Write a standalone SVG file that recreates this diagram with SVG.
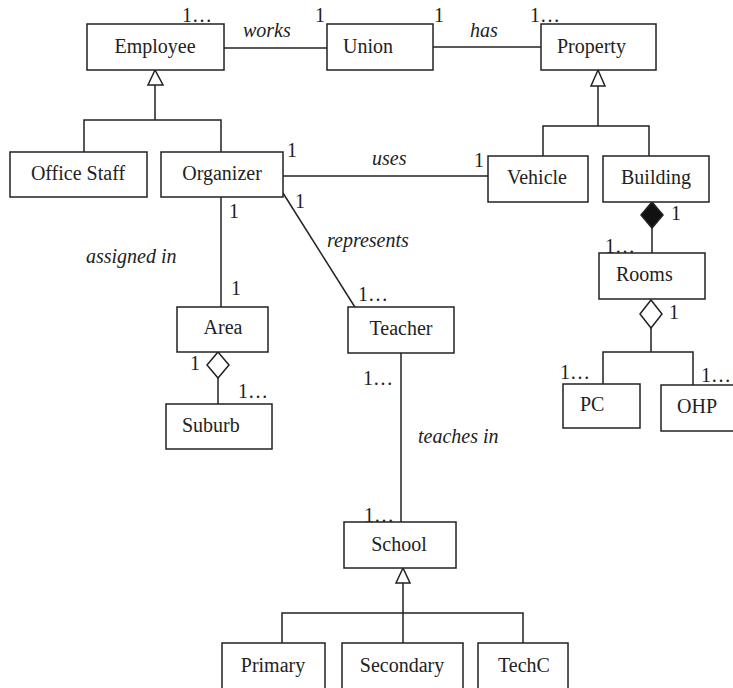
<svg xmlns="http://www.w3.org/2000/svg" width="733" height="688" viewBox="0 0 733 688">
<style>
.box{fill:#fff;stroke:#222;stroke-width:1.5}
.ln{fill:none;stroke:#222;stroke-width:1.5}
.tri{fill:#fff;stroke:#222;stroke-width:1.5}
.odia{fill:#fff;stroke:#222;stroke-width:1.5}
.fdia{fill:#111;stroke:#222;stroke-width:1.5}
text{font-family:"Liberation Serif","Times New Roman",serif;font-size:20px;fill:#222}
.c{text-anchor:middle}
.i{font-style:italic}
</style>
<rect width="733" height="688" fill="#fff"/>
<g id="connectors">
<line class="ln" x1="224" y1="48" x2="327" y2="48"/>
<line class="ln" x1="433" y1="47" x2="541" y2="47"/>
<path class="ln" d="M155 85 V120 M84 152 V120 H221 V152"/>
<polygon class="tri" points="155,70 148,85 163,85"/>
<path class="ln" d="M598 86 V126 M543 156 V126 H649 V156"/>
<polygon class="tri" points="598,70 591,86 605,86"/>
<line class="ln" x1="283" y1="176" x2="488" y2="176"/>
<line class="ln" x1="221" y1="197" x2="221" y2="307"/>
<line class="ln" x1="283" y1="193" x2="358" y2="312"/>
<line class="ln" x1="652" y1="228" x2="652" y2="253"/>
<polygon class="fdia" points="652,202 663,215 652,228 641,215"/>
<path class="ln" d="M651 328 V352 M603 384 V352 H693 V385"/>
<polygon class="odia" points="651,300 662,314 651,328 640,314"/>
<line class="ln" x1="218" y1="378" x2="218" y2="404"/>
<polygon class="odia" points="218,352 229,365 218,378 207,365"/>
<line class="ln" x1="401" y1="353" x2="401" y2="522"/>
<path class="ln" d="M403 583 V643 M282 643 V613 H523 V643"/>
<polygon class="tri" points="403,568 396,583 410,583"/>
</g>
<g id="labels">
<text x="182" y="22">1…</text>
<text x="315" y="22">1</text>
<text class="i" x="243" y="37">works</text>
<text x="434" y="22">1</text>
<text class="i" x="470" y="37">has</text>
<text x="530" y="22">1…</text>
<text x="287" y="157">1</text>
<text class="i" x="372" y="165">uses</text>
<text x="474" y="167">1</text>
<text x="229" y="218">1</text>
<text x="295" y="208">1</text>
<text class="i" x="86" y="263">assigned in</text>
<text class="i" x="327" y="247">represents</text>
<text x="231" y="295">1</text>
<text x="358" y="301">1…</text>
<text x="671" y="220">1</text>
<text x="605" y="253">1…</text>
<text x="669" y="319">1</text>
<text x="560" y="379">1…</text>
<text x="701" y="382">1…</text>
<text x="190" y="370">1</text>
<text x="238" y="398">1…</text>
<text x="363" y="385">1…</text>
<text class="i" x="418" y="443">teaches in</text>
<text x="364" y="522">1…</text>
</g>
<g id="employee"><rect class="box" x="87" y="24" width="137" height="46"/><text class="c" x="155" y="53">Employee</text></g>
<g id="union"><rect class="box" x="327" y="24" width="106" height="46"/><text x="343" y="53">Union</text></g>
<g id="property"><rect class="box" x="541" y="24" width="115" height="46"/><text x="557" y="53">Property</text></g>
<g id="officestaff"><rect class="box" x="10" y="152" width="137" height="45"/><text class="c" x="78" y="180">Office Staff</text></g>
<g id="organizer"><rect class="box" x="161" y="152" width="122" height="45"/><text class="c" x="222" y="180">Organizer</text></g>
<g id="vehicle"><rect class="box" x="488" y="156" width="100" height="46"/><text class="c" x="537" y="184">Vehicle</text></g>
<g id="building"><rect class="box" x="603" y="156" width="106" height="46"/><text class="c" x="656" y="184">Building</text></g>
<g id="rooms"><rect class="box" x="599" y="253" width="106" height="46"/><text x="616" y="281">Rooms</text></g>
<g id="area"><rect class="box" x="177" y="307" width="91" height="45"/><text class="c" x="223" y="334">Area</text></g>
<g id="teacher"><rect class="box" x="348" y="307" width="106" height="46"/><text class="c" x="401" y="335">Teacher</text></g>
<g id="suburb"><rect class="box" x="166" y="404" width="106" height="45"/><text x="182" y="432">Suburb</text></g>
<g id="pc"><rect class="box" x="563" y="384" width="77" height="44"/><text x="580" y="411">PC</text></g>
<g id="ohp"><rect class="box" x="661" y="385" width="90" height="46"/><text x="677" y="413">OHP</text></g>
<g id="school"><rect class="box" x="344" y="522" width="112" height="46"/><text class="c" x="399" y="551">School</text></g>
<g id="primary"><rect class="box" x="222" y="643" width="103" height="60"/><text class="c" x="273" y="672">Primary</text></g>
<g id="secondary"><rect class="box" x="342" y="643" width="121" height="60"/><text class="c" x="402" y="672">Secondary</text></g>
<g id="techc"><rect class="box" x="478" y="643" width="90" height="60"/><text class="c" x="524" y="672">TechC</text></g>
</svg>
